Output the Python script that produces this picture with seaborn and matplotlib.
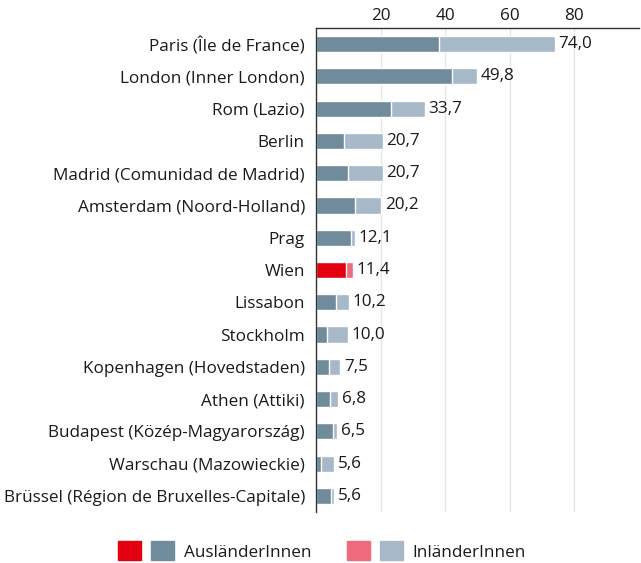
import numpy as np
import pandas as pd
import seaborn as sns
import matplotlib.pyplot as plt
from matplotlib.patches import Patch
from matplotlib.legend_handler import HandlerTuple

# Data
cities = [
    "Paris (Île de France)",
    "London (Inner London)",
    "Rom (Lazio)",
    "Berlin",
    "Madrid (Comunidad de Madrid)",
    "Amsterdam (Noord-Holland)",
    "Prag",
    "Wien",
    "Lissabon",
    "Stockholm",
    "Kopenhagen (Hovedstaden)",
    "Athen (Attiki)",
    "Budapest (Közép-Magyarország)",
    "Warschau (Mazowieckie)",
    "Brüssel (Région de Bruxelles-Capitale)",
]
total = [74.0, 49.8, 33.7, 20.7, 20.7, 20.2, 12.1, 11.4, 10.2, 10.0, 7.5, 6.8, 6.5, 5.6, 5.6]
auslaender = [38.0, 42.1, 23.2, 8.6, 10.0, 12.1, 10.8, 9.3, 6.3, 3.3, 4.0, 4.3, 5.4, 1.6, 4.5]

highlight = "Wien"
red, blue = "#e3000f", "#6f8b9c"
pink, lightblue = "#ee6a7c", "#a7b8c8"

df = pd.DataFrame({"Stadt": cities, "Gesamt": total, "Ausl": auslaender})

sns.set_theme(style="white")
plt.rcParams['font.family'] = ['Open Sans', 'DejaVu Sans']
plt.rcParams['text.color'] = '#1a1a1a'
fs = 12.3

fig = plt.figure(figsize=(6.41, 5.63), dpi=100)
ax = fig.add_axes([316 / 641, 1 - 512 / 563, 323 / 641, 484 / 563])

pal_light = {c: (pink if c == highlight else lightblue) for c in cities}
pal_dark = {c: (red if c == highlight else blue) for c in cities}

sns.barplot(data=df, y="Stadt", x="Gesamt", hue="Stadt", palette=pal_light,
            orient="h", width=0.5, legend=False, ax=ax, saturation=1)
sns.barplot(data=df, y="Stadt", x="Ausl", hue="Stadt", palette=pal_dark,
            orient="h", width=0.5, legend=False, ax=ax, saturation=1)

# value labels on the total bars
for i, v in enumerate(total):
    ax.text(v + 1.1, i, f"{v:.1f}".replace(".", ","), va="center", ha="left",
            fontsize=fs, color="#1a1a1a")

ax.set_xlim(0, 100)
ax.set_ylim(14.5, -0.5)
ax.set_xticks([20, 40, 60, 80])
ax.xaxis.tick_top()
ax.tick_params(axis="x", length=0, pad=3, labelsize=fs, colors="#1a1a1a")
ax.tick_params(axis="y", length=0, pad=8, labelsize=fs, colors="#1a1a1a")
ax.grid(axis="x", color="#e6e6e6", lw=1)
ax.set_axisbelow(True)
ax.set_xlabel("")
ax.set_ylabel("")
for s in ["right", "bottom"]:
    ax.spines[s].set_visible(False)
for s in ["left", "top"]:
    ax.spines[s].set_color("#333333")
    ax.spines[s].set_linewidth(1)

# Legend
h1 = (Patch(color=red), Patch(color=blue))
h2 = (Patch(color=pink), Patch(color=lightblue))
fig.legend([h1, h2], ["AusländerInnen", "InländerInnen"],
           handler_map={tuple: HandlerTuple(ndivide=None, pad=0.55)},
           loc="center", bbox_to_anchor=(322 / 641, 1 - 551 / 563),
           ncol=2, frameon=False, fontsize=fs, handlelength=3.3,
           handleheight=1.3, handletextpad=0.55, columnspacing=2.1)

fig.savefig("out.png", dpi=100)
